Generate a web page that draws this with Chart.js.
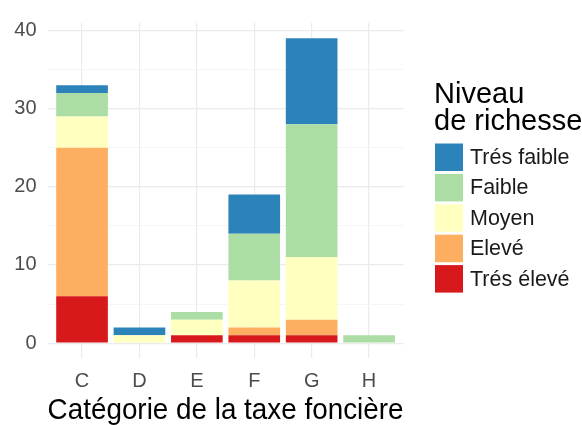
<!DOCTYPE html>
<html><head><meta charset="utf-8">
<script src="https://cdn.jsdelivr.net/npm/chart.js@4/dist/chart.umd.min.js"></script>
<style>html,body{margin:0;padding:0;background:#fff}#wrap{width:582px;height:425px;position:relative}</style>
</head><body><div id="wrap"><canvas id="c" width="582" height="425"></canvas></div>
<script>
const categories = ['C','D','E','F','G','H'];
const tresEleve  = [6, 0, 1, 1, 1, 0];
const eleve      = [19, 0, 0, 1, 2, 0];
const moyen      = [4, 1, 2, 6, 8, 0];
const faible     = [3, 0, 1, 6, 17, 1];
const tresFaible = [1, 1, 0, 5, 11, 0];
const yTicks = [0, 10, 20, 30, 40];
const yMinorTicks = [5, 15, 25, 35];
const legendTitle = ['Niveau', 'de richesse'];
const xTitle = 'Catégorie de la taxe foncière';

const FONT = "'Liberation Sans', Arial, sans-serif";
const series = [
  {label:'Trés élevé', data:tresEleve, color:'#D7191C'},
  {label:'Elevé', data:eleve, color:'#FDAE61'},
  {label:'Moyen', data:moyen, color:'#FFFFBF'},
  {label:'Faible', data:faible, color:'#ABDDA4'},
  {label:'Trés faible', data:tresFaible, color:'#2B83BA'}
];

const legendPlugin = {
  id:'ggLegend',
  afterDraw(chart){
    const ctx = chart.ctx;
    ctx.save();
    ctx.fillStyle = '#000';
    ctx.font = '29px ' + FONT;
    ctx.textAlign = 'left';
    ctx.textBaseline = 'alphabetic';
    ctx.fillText(legendTitle[0], 434, 103);
    ctx.fillText(legendTitle[1], 434, 130);
    const ds = chart.data.datasets.slice().reverse();
    ctx.font = '21.5px ' + FONT;
    ctx.textBaseline = 'middle';
    ds.forEach((d, i) => {
      const y = 143.5 + i * 30.4;
      ctx.fillStyle = d.backgroundColor;
      ctx.fillRect(435, y, 28, 27.5);
      ctx.fillStyle = '#1a1a1a';
      ctx.fillText(d.label, 470, y + 14.5);
    });
    ctx.restore();
  }
};

new Chart(document.getElementById('c'), {
  type:'bar',
  data:{
    datasets: series.map(s => ({
      label:s.label,
      data:s.data.map((v,i)=>({x:i, y:v})),
      backgroundColor:s.color,
      borderWidth:0,
      barPercentage:0.9,
      categoryPercentage:1.0
    }))
  },
  options:{
    responsive:false,
    animation:false,
    devicePixelRatio:1,
    layout:{padding:{top:19.5, right:178.5, left:0, bottom:0}},
    plugins:{legend:{display:false}, tooltip:{enabled:false}},
    scales:{
      x:{
        type:'linear', stacked:true, min:-0.6, max:5.6, offset:false,
        afterBuildTicks(s){ s.ticks = categories.map((c,i)=>({value:i})); },
        afterFit(s){ s.height = 66.6; },
        border:{display:false},
        grid:{color:'#EBEBEB', lineWidth:1.2, drawTicks:false, offset:false},
        ticks:{callback:(v)=>categories[v], color:'#4D4D4D', font:{family:FONT, size:20}, padding:11, maxRotation:0, autoSkip:false},
        title:{display:true, text:xTitle, color:'#000', font:{family:FONT, size:29.5}, padding:{top:0, bottom:-4}}
      },
      y:{
        stacked:true, min:-1.95, max:40.95,
        afterBuildTicks(s){ s.ticks = yTicks.concat(yMinorTicks).sort((a,b)=>a-b).map(v=>({value:v})); },
        afterFit(s){ s.width = 47.6; },
        border:{display:false},
        grid:{color:(c)=> (c.tick && c.tick.value % 10 === 0) ? '#EBEBEB' : '#F3F3F3', lineWidth:(c)=> (c.tick && c.tick.value % 10 === 0) ? 1.2 : 0.8, drawTicks:false},
        ticks:{callback:(v)=> (v % 10 === 0 ? String(v) : ''), color:'#4D4D4D', font:{family:FONT, size:20}, padding:11, autoSkip:false}
      }
    }
  },
  plugins:[legendPlugin]
});
</script></body></html>
